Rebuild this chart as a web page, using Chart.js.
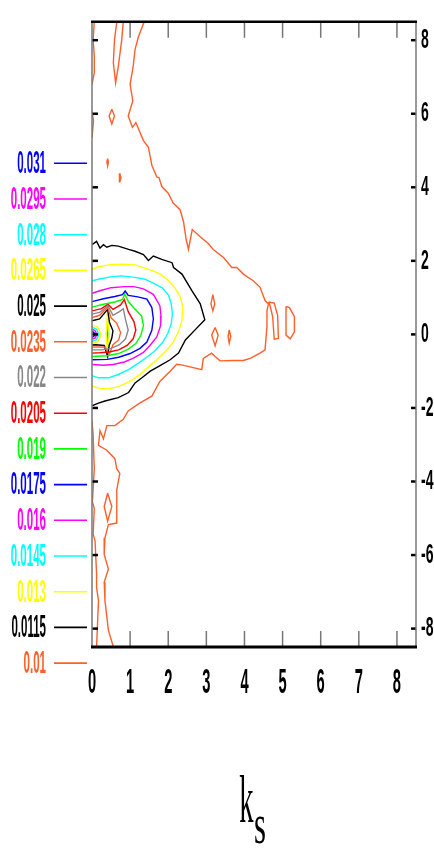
<!DOCTYPE html>
<html>
<head>
<meta charset="utf-8">
<script src="https://cdn.jsdelivr.net/npm/chart.js@4/dist/chart.umd.min.js"></script>
<style>
  html,body{margin:0;padding:0;background:#fff}
  canvas{display:block}
</style>
</head>
<body>
<canvas id="chart" width="434" height="849"></canvas>
<script>
// Contour chart - levels from 0.01 to 0.031

const X_TICKS = [0,1,2,3,4,5,6,7,8];
const Y_TICKS = [-8,-6,-4,-2,0,2,4,6,8];

const LEVELS = [0.01,0.0115,0.013,0.0145,0.016,0.0175,0.019,0.0205,0.022,0.0235,0.025,0.0265,0.028,0.0295,0.031];
const LEVEL_COLORS = ['#ff5f2a','#000000','#ffff00','#00ffff','#ff00ff','#0000ff','#00ff00','#ff0000','#888888',
                      '#ff5f2a','#000000','#ffff00','#00ffff','#ff00ff','#0000ff'];

// contour paths per level, [x, y] in data units
const lev_010 = [
  [[1.37,8.5],[1.22,8.10],[1.13,7.75],[1.08,7.29],[1.00,6.80],[1.07,6.35],[0.95,5.94],[1.06,5.63],[1.15,5.76],[1.35,5.27],
   [1.48,5.09],[1.57,4.60],[1.70,4.28],[1.76,4.26],[1.83,4.02],[2.00,3.84],[2.13,3.57],[2.31,3.39],[2.40,3.07],[2.47,2.58],
   [2.53,2.31],[2.63,2.85],[2.83,2.66],[3.05,2.47],[3.18,2.31],[3.45,2.09],[3.67,1.82],[3.80,1.82],[3.97,1.64],[4.23,1.46],
   [4.41,1.28],[4.54,0.92],[4.63,0.83],[4.59,0.65],[4.59,0.21],[4.54,-0.42],[4.41,-0.51],[4.15,-0.65],[3.97,-0.71],[3.71,-0.71],
   [3.36,-0.72],[3.23,-0.60],[3.14,-0.51],[2.92,-0.65],[2.88,-0.96],[2.35,-0.83],[2.22,-0.81],[2.05,-1.00],[1.78,-1.28],[1.57,-1.68],
   [1.26,-1.86],[0.95,-2.08],[0.82,-2.31],[0.60,-2.48],[0.39,-2.48],[0.30,-2.84],[0.21,-2.62],[0.17,-3.02],[0.39,-3.15],[0.60,-3.38],
   [0.65,-3.65],[0.73,-3.78],[0.65,-4.23],[0.65,-5.13],[0.43,-5.17],[0.34,-5.53],[0.32,-5.98],[0.43,-6.38],[0.32,-6.74],[0.34,-7.24],
   [0.43,-8.04],[0.56,-8.5]],
  [[0.06,8.5],[0.03,8.01],[0.06,7.56],[0.06,7.11],[0,6.80]],
  [[0,6.08],[0.04,5.81],[0,5.35]],
  [[0.65,8.5],[0.59,8.01],[0.56,7.38],[0.62,6.84],[0.69,7.29],[0.78,8.01],[0.82,8.5]],
  [[0.52,6.12],[0.59,5.94],[0.52,5.72],[0.45,5.94],[0.52,6.12]],
  [[0.41,4.78],[0.43,4.69],[0.41,4.58],[0.39,4.69],[0.41,4.78]],
  [[0.73,4.38],[0.76,4.26],[0.73,4.15],[0.71,4.26],[0.73,4.38]],
  [[3.17,1.08],[3.22,0.83],[3.17,0.64],[3.12,0.83],[3.17,1.08]],
  [[3.23,0.19],[3.31,-0.02],[3.23,-0.31],[3.14,-0.02],[3.23,0.19]],
  [[3.60,0.12],[3.64,-0.06],[3.60,-0.24],[3.57,-0.06],[3.60,0.12]],
  [[4.63,0.88],[4.78,0.85],[4.87,0.52],[4.89,-0.11],[4.78,-0.13],[4.74,0.48],[4.67,0.79],[4.63,0.88]],
  [[5.09,0.76],[5.18,0.73],[5.31,0.48],[5.31,0.07],[5.20,-0.12],[5.09,-0.02],[5.09,0.76]],
  [[0.41,-4.32],[0.52,-4.68],[0.41,-5.08],[0.32,-4.68],[0.41,-4.32]],
  [[0,-2.34],[0.03,-2.74],[0.06,-3.65],[0.01,-4.55],[0.06,-4.73],[0.03,-5.43],[0.08,-5.62],[0.12,-6.51],[0.12,-6.88],[0.17,-7.24],[0.12,-8.5]]
];
const lev_0115 = [
  [[0,2.44],[0.12,2.53],[0.21,2.35],[0.30,2.44],[0.39,2.37],[0.52,2.42],[0.69,2.40],[0.96,2.31],[1.13,2.26],[1.35,2.17],
   [1.48,2.01],[1.61,2.13],[1.83,2.04],[2.10,1.95],[2.14,1.82],[2.36,1.64],[2.62,1.19],[2.84,0.83],[2.96,0.40],[2.71,0.13],
   [2.45,-0.15],[2.27,-0.51],[2.05,-0.69],[1.75,-0.87],[1.53,-1.00],[1.31,-1.18],[1.13,-1.32],[0.96,-1.58],[0.69,-1.72],[0.34,-1.81],
   [0.17,-1.87],[0,-1.94]]
];
const lev_013 = [
  [[0,1.77],[0.17,1.84],[0.43,1.89],[0.78,1.91],[1.13,1.89],[1.57,1.74],[1.79,1.64],[2.01,1.46],[2.18,1.26],[2.32,1.01],
   [2.38,0.74],[2.36,0.38],[2.27,0.07],[2.11,-0.24],[1.92,-0.47],[1.70,-0.69],[1.48,-0.89],[1.22,-1.12],[0.96,-1.30],[0.69,-1.42],
   [0.43,-1.48],[0.17,-1.46],[0,-1.40]]
];
const lev_0145 = [
  [[0,1.46],[0.17,1.50],[0.52,1.57],[0.78,1.59],[1.13,1.55],[1.39,1.50],[1.66,1.37],[1.85,1.26],[2.01,1.06],[2.08,0.83],
   [2.11,0.56],[2.08,0.30],[1.99,0.03],[1.85,-0.22],[1.66,-0.44],[1.46,-0.60],[1.22,-0.78],[0.96,-0.96],[0.69,-1.09],[0.43,-1.18],
   [0.17,-1.18],[0,-1.12]]
];
const lev_016 = [
  [[0,1.12],[0.25,1.20],[0.5,1.27],[0.85,1.30],[1.1,1.30],[1.35,1.24],[1.61,1.09],[1.78,0.78],[1.81,0.50],[1.80,0.24],
   [1.70,-0.07],[1.52,-0.30],[1.35,-0.49],[1.1,-0.64],[0.85,-0.75],[0.55,-0.82],[0.3,-0.84],[0,-0.82]]
];
const lev_0175 = [
  [[0,0.89],[0.3,0.97],[0.6,1.03],[0.8,1.08],[0.87,1.18],[0.95,1.06],[1.2,1.02],[1.44,0.96],[1.57,0.73],[1.61,0.42],
   [1.57,0.11],[1.44,-0.21],[1.26,-0.38],[1.0,-0.52],[0.7,-0.62],[0.4,-0.68],[0,-0.69]]
];
const lev_019 = [
  [[0,0.74],[0.3,0.82],[0.6,0.88],[0.8,0.95],[0.86,1.10],[0.95,0.90],[1.1,0.72],[1.3,0.50],[1.35,0.24],[1.28,-0.03],
   [1.15,-0.25],[0.95,-0.40],[0.7,-0.52],[0.4,-0.58],[0,-0.60]]
];
const lev_0205 = [
  [[0,0.64],[0.25,0.70],[0.42,0.82],[0.55,0.68],[0.75,0.80],[0.85,0.95],[0.95,0.62],[1.1,0.35],[1.15,0.12],[1.08,-0.12],
   [0.92,-0.30],[0.7,-0.42],[0.45,-0.48],[0.2,-0.50],[0,-0.51]]
];
const lev_022 = [
  [[0,0.55],[0.2,0.60],[0.42,0.78],[0.55,0.52],[0.72,0.62],[0.82,0.70],[0.88,0.40],[0.95,0.12],[0.88,-0.12],[0.72,-0.28],
   [0.5,-0.38],[0.25,-0.42],[0,-0.42]]
];
const lev_0235 = [
  [[0,0.46],[0.2,0.52],[0.41,0.74],[0.5,0.45],[0.65,0.30],[0.75,0.05],[0.7,-0.15],[0.55,-0.28],[0.45,-0.55],[0.35,-0.35],
   [0.15,-0.34],[0,-0.35]]
];
const lev_025 = [
  [[0,0.37],[0.2,0.42],[0.41,0.68],[0.46,0.32],[0.55,0.10],[0.52,-0.10],[0.45,-0.30],[0.41,-0.60],[0.32,-0.30],[0.1,-0.28],[0,-0.29]]
];
const lev_0265 = [
  [[0.41,0.62],[0.45,0.0],[0.41,-0.56],[0.37,0.0],[0.41,0.62]],
  [[0,0.26],[0.15,0.2],[0.24,0],[0.15,-0.2],[0,-0.25]]
];
const lev_028 = [
  [[0.41,0.45],[0.44,0],[0.41,-0.42],[0.38,0],[0.41,0.45]],
  [[0,0.2],[0.12,0.14],[0.18,0],[0.12,-0.14],[0,-0.19]]
];
const lev_0295 = [
  [[0.41,0.3],[0.43,0],[0.41,-0.28],[0.39,0],[0.41,0.3]],
  [[0,0.14],[0.08,0.1],[0.13,0],[0.08,-0.1],[0,-0.13]]
];
const lev_031 = [
  [[0,0.08],[0.05,0.05],[0.08,0],[0.05,-0.05],[0,-0.08]]
];

const LEVEL_PATHS = [lev_010,lev_0115,lev_013,lev_0145,lev_016,lev_0175,lev_019,lev_0205,lev_022,
                     lev_0235,lev_025,lev_0265,lev_028,lev_0295,lev_031];

// the original uses very condensed lettering: horizontal squeeze per font size
const TEXT_SX = {28:0.5, 32:0.36, 35:0.42, 56:0.55, 68:0.42};

const canvas = document.getElementById('chart');
const ctx = canvas.getContext('2d');
const rawFillText = ctx.fillText.bind(ctx);
ctx.fillText = function(text, x, y){
  const m = ctx.font.match(/(\d+)px/);
  const sx = m ? (TEXT_SX[+m[1]] || 1) : 1;
  ctx.save();
  ctx.translate(x, y);
  ctx.scale(sx, 1);
  rawFillText(text, 0, 0);
  ctx.restore();
};

const datasets = [];
LEVEL_PATHS.forEach((paths, i) => {
  paths.forEach(seg => {
    datasets.push({
      label: String(LEVELS[i]),
      data: seg.map(p => ({x: p[0], y: p[1]})),
      showLine: true,
      borderColor: LEVEL_COLORS[i],
      backgroundColor: LEVEL_COLORS[i],
      borderWidth: 1.4,
      pointRadius: 0,
      tension: 0
    });
  });
});

function seg(c, x1, y1, x2, y2){
  c.beginPath(); c.moveTo(x1, y1); c.lineTo(x2, y2); c.stroke();
}

const framePlugin = {
  id: 'frame',
  afterDatasetsDraw(chart){
    const c = chart.ctx, a = chart.chartArea;
    const xs = chart.scales.x, ys = chart.scales.y;
    c.save();
    c.strokeStyle = '#777'; c.lineWidth = 1.5;
    X_TICKS.forEach(v => {
      if(v === 0) return;
      const px = xs.getPixelForValue(v);
      seg(c, px, a.top, px, a.top + 16);
      seg(c, px, a.bottom - 16, px, a.bottom);
    });
    c.strokeStyle = '#000'; c.lineWidth = 2.5;
    Y_TICKS.forEach(v => {
      const py = ys.getPixelForValue(v);
      seg(c, a.left, py, a.left + 6, py);
      seg(c, a.right - 5, py, a.right, py);
    });
    c.strokeStyle = '#777'; c.lineWidth = 1.5;
    seg(c, a.left, a.top, a.left, a.bottom);
    seg(c, a.right, a.top, a.right, a.bottom);
    c.strokeStyle = '#000'; c.lineWidth = 2.5;
    seg(c, a.left - 1, a.top, a.right + 1, a.top);
    c.lineWidth = 3;
    seg(c, a.left - 1, a.bottom, a.right + 1, a.bottom);
    c.restore();
  }
};

const LEGEND_TOP = 163.3, LEGEND_STEP = 35.7;

const legendPlugin = {
  id: 'levelLegend',
  afterDraw(chart){
    const c = chart.ctx;
    c.save();
    c.font = "bold 32px 'Liberation Sans'";
    c.textAlign = 'right';
    c.textBaseline = 'middle';
    c.lineWidth = 1.6;
    for(let i = LEVELS.length - 1; i >= 0; i--){
      const y = LEGEND_TOP + (LEVELS.length - 1 - i) * LEGEND_STEP;
      c.fillStyle = LEVEL_COLORS[i];
      c.strokeStyle = LEVEL_COLORS[i];
      c.fillText(String(LEVELS[i]), 46, y + 1);
      seg(c, 54, y, 87, y);
    }
    // axis title k_s
    c.fillStyle = '#000';
    c.textAlign = 'center';
    c.textBaseline = 'alphabetic';
    c.font = "68px 'Liberation Serif'";
    c.fillText('k', 246.5, 822);
    c.font = "56px 'Liberation Serif'";
    c.fillText('s', 260, 843);
    c.restore();
  }
};

new Chart(ctx, {
  type: 'scatter',
  data: { datasets },
  options: {
    responsive: false,
    animation: false,
    devicePixelRatio: 1,
    layout: { padding: { left: 92, top: 15, right: 0, bottom: 0 } },
    plugins: { legend: { display: false }, tooltip: { enabled: false } },
    scales: {
      x: {
        type: 'linear', min: 0, max: 8.5, position: 'bottom',
        grid: { display: false, drawTicks: false },
        border: { display: false },
        afterBuildTicks: s => { s.ticks = X_TICKS.map(v => ({value: v})); },
        afterFit: s => { s.height = 202; },
        ticks: { autoSkip: false, maxRotation: 0, padding: 15, color: '#000',
                 font: { family: 'Liberation Sans', size: 35, weight: 'bold' }, callback: v => String(v) }
      },
      y: {
        type: 'linear', min: -8.5, max: 8.5, position: 'right',
        grid: { display: false, drawTicks: false },
        border: { display: false },
        afterBuildTicks: s => { s.ticks = Y_TICKS.map(v => ({value: v})); },
        afterFit: s => { s.width = 18; },
        ticks: { autoSkip: false, padding: 5, color: '#000',
                 font: { family: 'Liberation Sans', size: 28, weight: 'bold' }, callback: v => String(v) }
      }
    }
  },
  plugins: [framePlugin, legendPlugin]
});
</script>
</body>
</html>
